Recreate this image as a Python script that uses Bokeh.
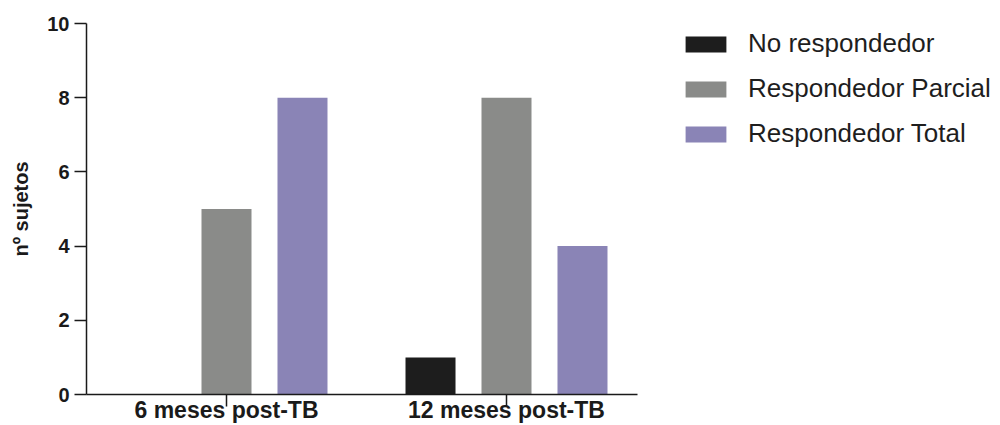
from bokeh.plotting import figure
from bokeh.models import Range1d, FixedTicker, Legend, LegendItem, ColumnDataSource
from bokeh.embed import file_html
from bokeh.resources import INLINE

# ---- data ----
groups = ["6 meses post-TB", "12 meses post-TB"]
series = ["No respondedor", "Respondedor Parcial", "Respondedor Total"]
no_respondedor = [0, 1]
respondedor_parcial = [5, 8]
respondedor_total = [8, 4]
colors = ["#1d1d1d", "#8a8b89", "#8a84b6"]
y_ticks = [0, 2, 4, 6, 8, 10]

values = [no_respondedor, respondedor_parcial, respondedor_total]
centers = [1, 2]
dodge = 0.2714
bar_w = 0.1786

FONT = "Liberation Sans"
W, H = 1000, 425
LEFT = 86
PX_PER_UNIT = 280

p = figure(width=W, height=H, output_backend="svg", toolbar_location=None,
           x_range=Range1d(0.5, 0.5 + (W - LEFT) / PX_PER_UNIT), y_range=Range1d(0, 10),
           min_border_left=LEFT, min_border_right=0, min_border_top=23, min_border_bottom=20)
p.outline_line_color = None
p.xgrid.visible = False
p.ygrid.visible = False
p.background_fill_color = "white"
p.border_fill_color = "white"

items = []
for i, (name, vals, col) in enumerate(zip(series, values, colors)):
    src = ColumnDataSource(dict(x=[c + (i - 1) * dodge for c in centers], top=vals))
    r = p.vbar(x="x", top="top", width=bar_w, bottom=0, source=src,
               fill_color=col, line_color=None)
    items.append(LegendItem(label=name, renderers=[r]))

legend = Legend(items=items, location=(594, 245), orientation="vertical",
                glyph_width=51, glyph_height=20, label_standoff=17,
                label_text_font=FONT, label_text_font_size="26px",
                label_text_color="#1e1e1e", label_height=25, spacing=14,
                padding=0, margin=0, border_line_alpha=0, background_fill_alpha=0)
p.add_layout(legend)

# x axis
xa = p.xaxis[0]
xa.bounds = (0.5, 2.468)
xa.ticker = FixedTicker(ticks=centers)
xa.major_label_overrides = {c: g for c, g in zip(centers, groups)}
xa.minor_tick_line_color = None
xa.major_tick_in = 0
xa.major_tick_out = 12
xa.major_label_standoff = -10
xa.axis_line_width = 1.5
xa.axis_line_color = "#1a1a1a"
xa.major_tick_line_width = 1.5
xa.major_tick_line_color = "#1a1a1a"
xa.major_label_text_font = FONT
xa.major_label_text_font_style = "bold"
xa.major_label_text_font_size = "23px"
xa.major_label_text_color = "#1a1a1a"

# y axis
ya = p.yaxis[0]
ya.ticker = FixedTicker(ticks=y_ticks)
ya.minor_tick_line_color = None
ya.major_tick_in = 0
ya.major_tick_out = 12
ya.major_label_standoff = 5
ya.axis_line_width = 1.5
ya.axis_line_color = "#1a1a1a"
ya.major_tick_line_width = 1.5
ya.major_tick_line_color = "#1a1a1a"
ya.major_label_text_font = FONT
ya.major_label_text_font_style = "bold"
ya.major_label_text_font_size = "20px"
ya.major_label_text_color = "#1a1a1a"
ya.axis_label = "nº sujetos"
ya.axis_label_text_font = FONT
ya.axis_label_text_font_style = "bold"
ya.axis_label_text_font_size = "20px"
ya.axis_label_text_color = "#1a1a1a"
ya.axis_label_standoff = 12

open("out.html", "w").write(file_html(p, INLINE))
